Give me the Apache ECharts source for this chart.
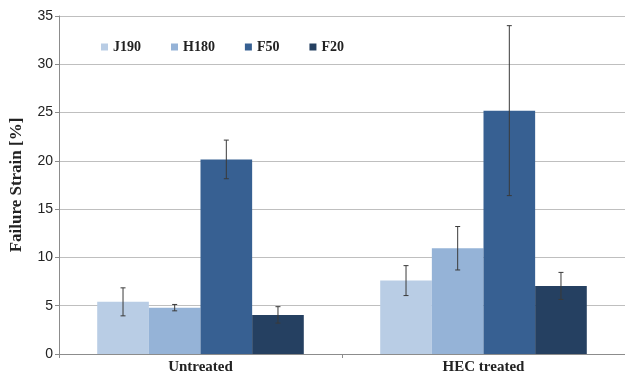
<!DOCTYPE html>
<html>
<head>
<meta charset="utf-8">
<script src="https://cdn.jsdelivr.net/npm/echarts@6/dist/echarts.min.js"></script>
<style>
  html, body { margin: 0; padding: 0; background: #fff; }
  #chart { width: 625px; height: 381px; }
</style>
</head>
<body>
<div id="chart"></div>
<script>
// Failure strain per fibre type, untreated vs. HEC treated
const categories = ['Untreated', 'HEC treated'];
const seriesNames = ['J190', 'H180', 'F50', 'F20'];
const colors = ['#b9cde5', '#95b3d7', '#376092', '#254061'];

// Mean failure strain [%]
const J190 = [5.4, 7.6];
const H180 = [4.8, 10.95];
const F50 = [20.15, 25.2];
const F20 = [4.05, 7.05];

// Standard deviation (error bar half-length) [%]
const J190_err = [1.45, 1.55];
const H180_err = [0.33, 2.25];
const F50_err = [2.0, 8.8];
const F20_err = [0.85, 1.4];

const yTicks = { min: 0, max: 35, interval: 5 };

const means = [J190, H180, F50, F20];
const errs = [J190_err, H180_err, F50_err, F20_err];
const GAP = 0.27; // share of each category left empty around the bar group

const serif = '"Liberation Serif", "DejaVu Serif", serif';

const barSeries = seriesNames.map((name, i) => ({
  name,
  type: 'bar',
  data: means[i],
  barGap: '0%',
  barCategoryGap: (GAP * 100) + '%',
  itemStyle: { color: colors[i] },
  emphasis: { disabled: true }
}));

// Error bars drawn on top of each bar, offset to the bar's slot in its group
const errData = [];
means.forEach((vals, s) => {
  vals.forEach((v, c) => errData.push([c, v, errs[s][c], s]));
});

const errorSeries = {
  type: 'custom',
  name: 'err',
  silent: true,
  z: 10,
  data: errData,
  encode: { x: 0, y: 1 },
  renderItem: function (params, api) {
    const c = api.value(0), v = api.value(1), e = api.value(2), s = api.value(3);
    const band = api.size([1, 0])[0];
    const bw = band * (1 - GAP) / seriesNames.length;
    const center = api.coord([c, v]);
    const x = center[0] + (s - (seriesNames.length - 1) / 2) * bw;
    const hi = api.coord([c, v + e])[1];
    const lo = api.coord([c, v - e])[1];
    const cap = 2.5;
    const st = { stroke: '#3a3a3a', lineWidth: 1 };
    return {
      type: 'group',
      children: [
        { type: 'line', shape: { x1: x, y1: hi, x2: x, y2: lo }, style: st },
        { type: 'line', shape: { x1: x - cap, y1: hi, x2: x + cap, y2: hi }, style: st },
        { type: 'line', shape: { x1: x - cap, y1: lo, x2: x + cap, y2: lo }, style: st }
      ]
    };
  }
};

const chart = echarts.init(document.getElementById('chart'), null, { renderer: 'canvas' });
chart.setOption({
  animation: false,
  backgroundColor: '#ffffff',
  color: colors,
  grid: { left: 56, top: 16, width: 580, height: 338, containLabel: false },
  legend: {
    data: seriesNames,
    left: 96,
    top: 35,
    itemWidth: 7,
    itemHeight: 7,
    itemGap: 30,
    icon: 'rect',
    selectedMode: false,
    textStyle: {
      fontFamily: serif, fontWeight: 'bold', fontSize: 14, color: '#222'
    }
  },
  xAxis: {
    type: 'category',
    data: categories,
    axisLine: { lineStyle: { color: '#8c8c8c', width: 1 } },
    axisTick: { show: true, length: 4, lineStyle: { color: '#8c8c8c' } },
    axisLabel: {
      fontFamily: serif, fontWeight: 'bold', fontSize: 15, color: '#222', margin: 6
    }
  },
  yAxis: {
    type: 'value',
    min: yTicks.min,
    max: yTicks.max,
    interval: yTicks.interval,
    name: 'Failure Strain [%]',
    nameLocation: 'middle',
    nameGap: 34,
    nameTextStyle: { fontFamily: serif, fontWeight: 'bold', fontSize: 17, color: '#222' },
    axisLine: { show: true, lineStyle: { color: '#8c8c8c', width: 1 } },
    axisTick: { show: true, length: 4, lineStyle: { color: '#8c8c8c' } },
    axisLabel: {
      fontFamily: '"Liberation Sans Narrow", "Liberation Sans", sans-serif',
      fontSize: 14, color: '#222', margin: 6
    },
    splitLine: { lineStyle: { color: '#bfbfbf', width: 1 } }
  },
  series: barSeries.concat([errorSeries])
});
</script>
</body>
</html>
